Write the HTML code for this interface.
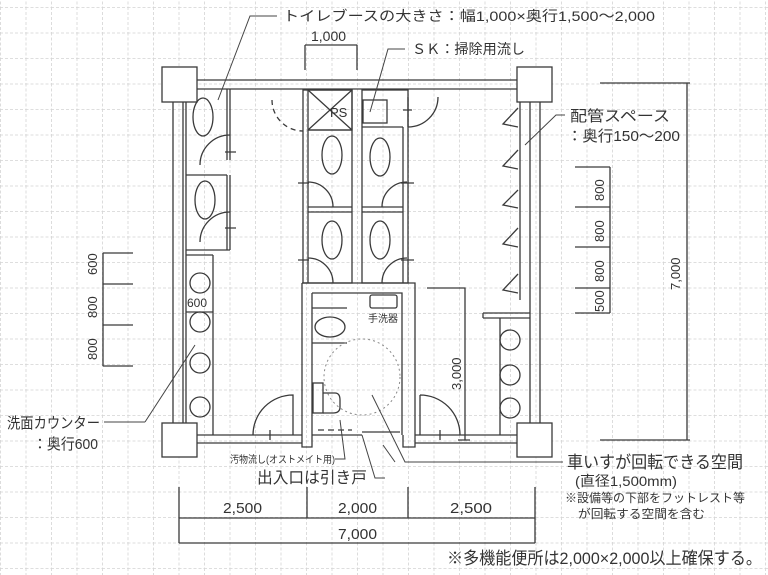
<!DOCTYPE html>
<html><head><meta charset="utf-8"><style>
html,body{margin:0;padding:0;background:#fff;}
svg{display:block;}
text{font-family:"Liberation Sans","Noto Sans CJK JP",sans-serif;fill:#333;}
</style></head><body>
<svg width="768" height="575" viewBox="0 0 768 575" xmlns="http://www.w3.org/2000/svg">
<defs>
<pattern id="g" x="0" y="7" width="25.5" height="25.5" patternUnits="userSpaceOnUse">
<path d="M0.5 0 V25.5 M0 0.5 H25.5" stroke="#d4d4d4" stroke-width="0.8" stroke-dasharray="3 2" fill="none"/>
</pattern>
</defs>
<rect width="768" height="575" fill="#fff"/>
<rect width="768" height="575" fill="url(#g)"/>
<g stroke="#3a3a3a" stroke-width="1.3" fill="none">
<rect x="162" y="67" width="35" height="35" fill="#fff"/>
<rect x="517" y="67" width="35" height="35" fill="#fff"/>
<rect x="162" y="423" width="35" height="34" fill="#fff"/>
<rect x="517" y="423" width="35" height="34" fill="#fff"/>
<path d="M197 80 H517 M197 89 H517"/>
<path d="M173 102 V423 M183 102 V423 M186 102 V423"/>
<path d="M530 102 V423 M540 102 V423 M520 102 V300"/>
<path d="M197 435 H302 M197 443 H302 M415 435 H517 M415 443 H517"/>
<path d="M227 89 V160 M230 89 V160 M227 175 V250 M230 175 V250 M186 175 H227 M186 250 H230 M186 255 H213 M213 255 V435"/>
<ellipse cx="203" cy="117" rx="10" ry="19"/>
<ellipse cx="205" cy="200" rx="10" ry="19"/>
<path d="M200 165 A30 30 0 0 1 230 135 M200 242 A30 30 0 0 1 230 212"/>
<path d="M225 152 H236 M225 228 H236"/>
<circle cx="200" cy="283" r="10"/><circle cx="200" cy="322" r="10"/><circle cx="200" cy="363" r="10"/><circle cx="200" cy="407" r="10"/>
<path d="M186 312 H213"/>
<rect x="303" y="90" width="49" height="193"/>
<rect x="308" y="90" width="44" height="40"/>
<path d="M308 90 L352 130 M352 90 L308 130"/>
<path d="M308 130 H352 M308 207 H352 M308 212 H352 M308 130 V283"/>
<ellipse cx="332" cy="155" rx="10" ry="19"/>
<ellipse cx="332" cy="240" rx="10" ry="19"/>
<path d="M308 182 A25 25 0 0 1 333 207 M308 258 A25 25 0 0 1 333 283"/>
<path d="M298 183 H309 M298 260 H309"/>
<path d="M272 100 A31 31 0 0 0 303 131" stroke-dasharray="5 4"/>
<rect x="362" y="90" width="46" height="193"/>
<rect x="363" y="100" width="24" height="23"/>
<path d="M362 127 H403 M362 207 H403 M362 212 H403 M403 127 V283"/>
<ellipse cx="380" cy="157" rx="10" ry="19"/>
<ellipse cx="380" cy="240" rx="10" ry="19"/>
<path d="M407 182 A25 25 0 0 0 382 207 M407 258 A25 25 0 0 0 382 283"/>
<path d="M401 183 H414 M401 260 H414 M403 110 H412"/>
<path d="M408 127 A30 30 0 0 0 438 97 M408 97 V127"/>
<path d="M302 283 V447 H312 V435 M302 283 H415 V447 H403 V435 M312 293 H402 V435 M312 293 V435 H362"/>
<path d="M318 430 H352" stroke-dasharray="6 4"/>
<path d="M362 432 H400"/>
<rect x="370" y="295" width="27" height="13" rx="2"/>
<path d="M312 308 H347 M312 343 H347"/>
<ellipse cx="330" cy="327" rx="15" ry="10"/>
<rect x="313" y="383" width="10" height="30"/>
<path d="M323 393 H335 Q340 393 340 400 V407 Q340 413 333 413 H323"/>
<circle cx="362" cy="377" r="38" stroke="#888" stroke-width="1" stroke-dasharray="2 3"/>
<path d="M253 435 A40 40 0 0 1 293 395 V435"/>
<path d="M420 395 A40 40 0 0 1 460 435 M420 395 V435"/>
<path d="M270 430 V440 M440 430 V440"/>
<path d="M518 108 L503 124 L518 127 M518 150 L503 166 L518 169 M518 190 L503 205 L518 208 M518 228 L503 244 L518 247 M518 274 L503 290 L518 293"/>
<path d="M483 313 H530 M483 318 H530 M483 313 V318 M500 318 V435"/>
<circle cx="510" cy="340" r="10"/><circle cx="510" cy="375" r="10"/><circle cx="510" cy="408" r="10"/>
<path d="M427 288 H465 V440 M458 440 H470"/>
<path d="M575 167 H610 M575 207 H610 M575 247 H610 M575 288 H610 M575 313 H610 M610 167 V313"/>
<path d="M600 83 H690 M687 83 V440 M600 440 H690"/>
<path d="M103 253 V366 M103 253 H133 M103 284 H133 M103 325 H133 M103 366 H133"/>
<path d="M305 45 H357 M305 45 V70 M357 45 V70"/>
<path d="M179 487 V543 M307 487 V518 M408 487 V518 M535 487 V543 M179 518 H535 M179 543 H535"/>
</g>
<g stroke="#444" stroke-width="1" fill="none">
<path d="M277 16 H250 L218 100"/>
<path d="M405 49 H388 L370 112"/>
<path d="M565 115 H556 L525 145"/>
<path d="M145 422 H104 M145 422 L195 345"/>
<path d="M335 459 H345 L340 420"/>
<path d="M385 478 H375 L362 435"/>
<path d="M372 395 L405 462 H563"/>
<path d="M383 445 L395 462"/>
</g>
<text x="330" y="117" font-size="13" fill="#444">PS</text>
<text x="283" y="21" font-size="14" textLength="372" lengthAdjust="spacingAndGlyphs">トイレブースの大きさ：幅1,000×奥行1,500～2,000</text>
<text x="311" y="41" font-size="14">1,000</text>
<text x="412" y="54" font-size="14" textLength="113" lengthAdjust="spacingAndGlyphs">ＳＫ：掃除用流し</text>
<text x="570" y="121" font-size="15" textLength="100" lengthAdjust="spacingAndGlyphs">配管スペース</text>
<text x="567" y="141" font-size="15" textLength="113" lengthAdjust="spacingAndGlyphs">：奥行150～200</text>
<text x="7" y="428" font-size="15" textLength="93" lengthAdjust="spacingAndGlyphs">洗面カウンター</text>
<text x="33" y="449" font-size="15" textLength="65" lengthAdjust="spacingAndGlyphs">：奥行600</text>
<text x="187" y="307" font-size="12">600</text>
<text x="368" y="322" font-size="10">手洗器</text>
<text x="230" y="463" font-size="10" textLength="105" lengthAdjust="spacingAndGlyphs">汚物流し(オストメイト用)</text>
<text x="257" y="483" font-size="16" textLength="110" lengthAdjust="spacingAndGlyphs">出入口は引き戸</text>
<text x="567" y="468" font-size="17" textLength="176" lengthAdjust="spacingAndGlyphs">車いすが回転できる空間</text>
<text x="575" y="486" font-size="14" textLength="102" lengthAdjust="spacingAndGlyphs">(直径1,500mm)</text>
<text x="565" y="502" font-size="12" textLength="180" lengthAdjust="spacingAndGlyphs">※設備等の下部をフットレスト等</text>
<text x="578" y="518" font-size="12" textLength="127" lengthAdjust="spacingAndGlyphs">が回転する空間を含む</text>
<text x="223" y="513" font-size="15" textLength="39" lengthAdjust="spacingAndGlyphs">2,500</text>
<text x="338" y="513" font-size="15" textLength="39" lengthAdjust="spacingAndGlyphs">2,000</text>
<text x="450" y="513" font-size="15" textLength="42" lengthAdjust="spacingAndGlyphs">2,500</text>
<text x="338" y="539" font-size="15" textLength="39" lengthAdjust="spacingAndGlyphs">7,000</text>
<text x="447" y="564" font-size="17" textLength="315" lengthAdjust="spacingAndGlyphs">※多機能便所は2,000×2,000以上確保する。</text>
<g font-size="13">
<text transform="translate(97,275) rotate(-90)">600</text>
<text transform="translate(97,318) rotate(-90)">800</text>
<text transform="translate(97,360) rotate(-90)">800</text>
<text transform="translate(604,201) rotate(-90)">800</text>
<text transform="translate(604,242) rotate(-90)">800</text>
<text transform="translate(604,282) rotate(-90)">800</text>
<text transform="translate(604,312) rotate(-90)">500</text>
<text transform="translate(680,290) rotate(-90)">7,000</text>
<text transform="translate(461,390) rotate(-90)">3,000</text>
</g>
</svg>
</body></html>
